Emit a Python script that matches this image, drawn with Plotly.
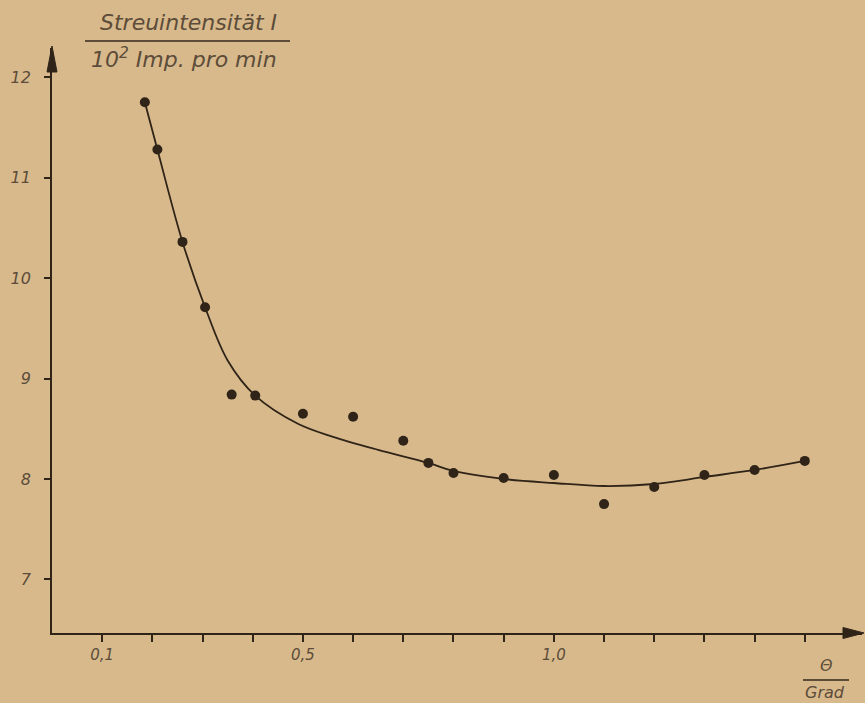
import plotly.graph_objects as go

# measured points: theta (Grad) and scattering intensity (10^2 Imp. pro min)
theta_pts = [0.185, 0.21, 0.26, 0.305, 0.358, 0.405, 0.50, 0.60, 0.70, 0.75, 0.80,
             0.90, 1.00, 1.10, 1.20, 1.30, 1.40, 1.50]
inten_pts = [11.75, 11.28, 10.36, 9.71, 8.84, 8.83, 8.65, 8.62, 8.38, 8.16, 8.06,
             8.01, 8.04, 7.75, 7.92, 8.04, 8.09, 8.18]

# hand-drawn fit curve
theta_fit = [0.185, 0.21, 0.26, 0.305, 0.35, 0.405, 0.49, 0.56, 0.65, 0.75, 0.80,
             0.90, 1.00, 1.10, 1.20, 1.30, 1.40, 1.50]
inten_fit = [11.75, 11.28, 10.36, 9.71, 9.18, 8.83, 8.55, 8.42, 8.29, 8.16, 8.08,
             8.00, 7.96, 7.93, 7.95, 8.02, 8.09, 8.18]

x_labelvals = [0.1, 0.5, 1.0]
x_labeltext = ["0,1", "0,5", "1,0"]
x_minorvals = [0.2, 0.3, 0.4, 0.6, 0.7, 0.8, 0.9, 1.1, 1.2, 1.3, 1.4, 1.5]
y_tickvals = [7, 8, 9, 10, 11, 12]
y_ticktext = ["7", "8", "9", "10", "11", "12"]

BG = "#d8b98c"
INK = "#2f2417"
TXT = "#5c4c39"
FONT = "DejaVu Sans"

W, H = 865, 703
L, R, T, B = 52, 3, 48, 70
XMAX = 1.614
YMIN, YMAX = 6.467, 12.29

def px(x):
    return (x - L) / (W - L - R)

def py(y):
    return (H - B - y) / (H - T - B)

fig = go.Figure()
fig.add_trace(go.Scatter(x=theta_fit, y=inten_fit, mode="lines",
                         line=dict(color=INK, width=1.8, shape="spline", smoothing=1.0),
                         hoverinfo="skip"))
fig.add_trace(go.Scatter(x=theta_pts, y=inten_pts, mode="markers",
                         marker=dict(color=INK, size=10, line=dict(width=0))))

fig.update_layout(
    width=W, height=H,
    margin=dict(l=L, r=R, t=T, b=B),
    paper_bgcolor=BG, plot_bgcolor=BG,
    showlegend=False,
    xaxis=dict(range=[0, XMAX], showgrid=False, zeroline=False,
               showline=True, linecolor=INK, linewidth=1.8,
               tickvals=x_labelvals, ticktext=x_labeltext,
               ticks="outside", ticklen=7, tickwidth=1.5, tickcolor=INK,
               minor=dict(tickvals=x_minorvals, ticks="outside", ticklen=7,
                          tickwidth=1.5, tickcolor=INK, showgrid=False),
               tickfont=dict(family=FONT, size=15, color=TXT, style="italic")),
    yaxis=dict(range=[YMIN, YMAX], showgrid=False, zeroline=False,
               showline=True, linecolor=INK, linewidth=1.8,
               tickvals=y_tickvals, ticktext=y_ticktext,
               ticks="outside", ticklen=6, tickwidth=1.5, tickcolor=INK,
               ticklabelstandoff=10,
               tickfont=dict(family=FONT, size=16, color=TXT, style="italic")),
)

# axis arrowheads (decoration)
fig.add_shape(type="path", xref="paper", yref="paper",
              path=f"M {px(52)} {py(46)} L {px(47)} {py(72)} L {px(57)} {py(72)} Z",
              fillcolor=INK, line=dict(color=INK, width=1))
fig.add_shape(type="path", xref="paper", yref="paper",
              path=f"M {px(864)} {py(633)} L {px(843)} {py(627.5)} L {px(843)} {py(638.5)} Z",
              fillcolor=INK, line=dict(color=INK, width=1))

# y-axis title as fraction
tf = dict(family=FONT, size=22, color=TXT, style="italic")
fig.add_annotation(x=px(188), y=py(23), xref="paper", yref="paper",
                   xanchor="center", yanchor="middle",
                   text="Streuintensität I", showarrow=False, font=tf)
fig.add_annotation(x=px(184), y=py(58), xref="paper", yref="paper",
                   xanchor="center", yanchor="middle",
                   text="10<sup>2</sup> Imp. pro min", showarrow=False, font=tf)
fig.add_shape(type="line", xref="paper", yref="paper",
              x0=px(85), x1=px(290), y0=py(41), y1=py(41),
              line=dict(color=TXT, width=1.8))

# x-axis title as fraction
xf = dict(family=FONT, size=16, color=TXT, style="italic")
fig.add_annotation(x=px(826), y=py(665), xref="paper", yref="paper",
                   xanchor="center", yanchor="middle",
                   text="Θ", showarrow=False, font=xf)
fig.add_annotation(x=px(825), y=py(692), xref="paper", yref="paper",
                   xanchor="center", yanchor="middle",
                   text="Grad", showarrow=False, font=xf)
fig.add_shape(type="line", xref="paper", yref="paper",
              x0=px(803), x1=px(849), y0=py(680), y1=py(680),
              line=dict(color=TXT, width=1.8))

fig.write_html("out.html")
